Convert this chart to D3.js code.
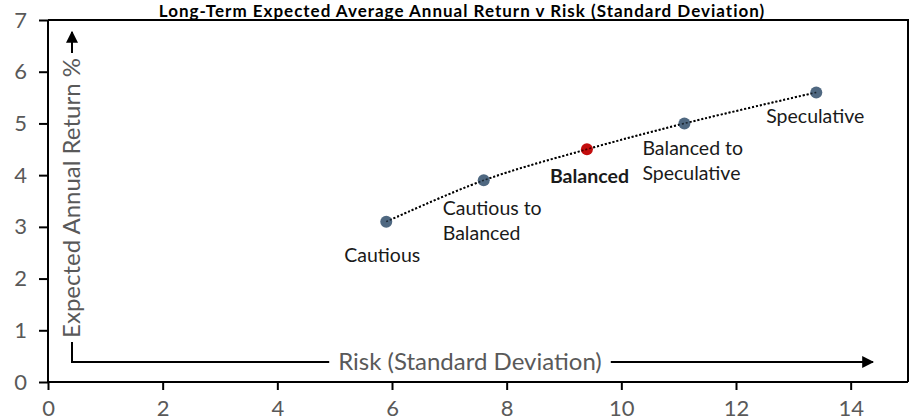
<!DOCTYPE html>
<html lang="en">
  <head>
    <meta charset="UTF-8" />
    <title>Return v Risk</title>
    <script src="https://cdn.jsdelivr.net/npm/d3@7"></script>
    <style>
      body { margin: 0; background: #fff; }
      #svgBox { width: 915px; height: 420px; display: block; }
    </style>
  </head>
  <body>
    <svg id="svgBox"></svg>
  </body>
  <script>
    const names = ['Cautious', 'Cautious to Balanced', 'Balanced', 'Balanced to Speculative', 'Speculative']
    const riskValues = [5.9, 7.6, 9.4, 11.1, 13.4]
    const returnValues = [3.1, 3.9, 4.5, 5.0, 5.6]
    const xTicks = [0, 2, 4, 6, 8, 10, 12, 14]
    const yTicks = [0, 1, 2, 3, 4, 5, 6, 7]

    // label lines and placement per point
    const labelLines = [['Cautious'], ['Cautious to', 'Balanced'], ['Balanced'], ['Balanced to', 'Speculative'], ['Speculative']]
    const labelPos = [
      { dx: -4, dy: 40, anchor: 'middle' },
      { dx: -41, dy: 35, anchor: 'start' },
      { dx: -37, dy: 34, anchor: 'start' },
      { dx: -42, dy: 32, anchor: 'start' },
      { dx: -1, dy: 31, anchor: 'middle' }
    ]

    function init() {
      const svg = d3.select('#svgBox')
      const margin = { top: 20, right: 7, bottom: 38, left: 48 }
      const width = 915, height = 420
      const innerWidth = width - margin.left - margin.right
      const innerHeight = height - margin.top - margin.bottom
      const font = 'Lato, Calibri, "Open Sans", sans-serif'

      const data = names.map((n, i) => ({ name: n, x: riskValues[i], y: returnValues[i] }))

      const xScale = d3.scaleLinear().domain([0, 15]).range([0, innerWidth])
      const yScale = d3.scaleLinear().domain([0, 7]).range([innerHeight, 0])

      // title sits tight against the top edge
      svg.append('text')
        .attr('x', 462).attr('y', 17)
        .attr('text-anchor', 'middle')
        .style('font-family', font).style('font-weight', 'bold').style('font-size', '17px')
        .style('letter-spacing', '1px')
        .text('Long-Term Expected Average Annual Return v Risk (Standard Deviation)')

      const g = svg.append('g').attr('transform', `translate(${margin.left} ${margin.top})`)

      // plot frame (top and right)
      g.append('path')
        .attr('d', `M0,0H${innerWidth}V${innerHeight}`)
        .attr('fill', 'none').attr('stroke', '#000').attr('stroke-width', 2)

      const xAxis = d3.axisBottom(xScale).tickValues(xTicks).tickFormat(d3.format('d')).tickSize(8).tickPadding(10)
      const yAxis = d3.axisLeft(yScale).tickValues(yTicks).tickFormat(d3.format('d')).tickSize(9).tickPadding(12)

      const gx = g.append('g').attr('transform', `translate(0 ${innerHeight})`).call(xAxis)
      const gy = g.append('g').call(yAxis)
      ;[gx, gy].forEach(a => {
        a.select('.domain').attr('stroke', '#000').attr('stroke-width', 2)
        a.selectAll('.tick line').attr('stroke', '#000').attr('stroke-width', 2)
        a.selectAll('.tick text')
          .attr('fill', '#595959')
          .style('font-family', font).style('font-size', '22px')
      })
      gy.select('.domain').attr('d', `M0,0V${innerHeight}`)
      gx.select('.domain').attr('d', `M0,0H${innerWidth}`)

      // arrow marker
      svg.append('defs').append('marker')
        .attr('id', 'arrow').attr('viewBox', '0 0 10 10')
        .attr('refX', 9).attr('refY', 5)
        .attr('markerWidth', 6).attr('markerHeight', 6)
        .attr('markerUnits', 'strokeWidth')
        .attr('orient', 'auto')
        .append('path').attr('d', 'M0,0L10,5L0,10z').attr('fill', '#000')

      // axis titles drawn inside the plot with L-shaped arrow
      const cornerX = 24, cornerY = innerHeight - 20
      const xt = g.append('text')
        .attr('x', 422).attr('y', cornerY + 8)
        .attr('text-anchor', 'middle').attr('fill', '#595959')
        .style('font-family', font).style('font-size', '24px')
        .text('Risk (Standard Deviation)')
      const xb = xt.node().getBBox()
      const yt = g.append('text')
        .attr('transform', `translate(${cornerX + 8} 178) rotate(-90)`)
        .attr('text-anchor', 'middle').attr('fill', '#595959')
        .style('font-family', font).style('font-size', '24px')
        .text('Expected Annual Return %')
      const yLen = yt.node().getComputedTextLength()

      g.append('path')
        .attr('d', `M${xb.x - 9},${cornerY}H${cornerX}V${178 + yLen / 2 + 4}`)
        .attr('fill', 'none').attr('stroke', '#000').attr('stroke-width', 2)
      g.append('path')
        .attr('d', `M${xb.x + xb.width + 9},${cornerY}H${825}`)
        .attr('fill', 'none').attr('stroke', '#000').attr('stroke-width', 2)
        .attr('marker-end', 'url(#arrow)')
      g.append('path')
        .attr('d', `M${cornerX},${178 - yLen / 2 - 5}V${12}`)
        .attr('fill', 'none').attr('stroke', '#000').attr('stroke-width', 2)
        .attr('marker-end', 'url(#arrow)')

      // smoothed dotted line
      const line = d3.line().x(d => xScale(d.x)).y(d => yScale(d.y)).curve(d3.curveCatmullRom)
      g.append('path')
        .datum(data)
        .attr('d', line)
        .attr('fill', 'none').attr('stroke', '#000')
        .attr('stroke-width', 2).attr('stroke-dasharray', '2 2')

      g.selectAll('.pt')
        .data(data)
        .join('circle')
        .attr('class', 'pt')
        .attr('cx', d => xScale(d.x)).attr('cy', d => yScale(d.y))
        .attr('r', 6)
        .attr('fill', d => d.name === 'Balanced' ? '#c00000' : '#46607a')
        .attr('fill-opacity', 0.95)

      // redraw line dots over the markers, as in the original
      g.append('path')
        .datum(data)
        .attr('d', line)
        .attr('fill', 'none').attr('stroke', '#000').attr('stroke-opacity', 0.6)
        .attr('stroke-width', 1.5).attr('stroke-dasharray', '2 2')

      const lbl = g.selectAll('.lbl')
        .data(data)
        .join('text')
        .attr('class', 'lbl')
        .attr('x', (d, i) => xScale(d.x) + labelPos[i].dx)
        .attr('y', (d, i) => yScale(d.y) + labelPos[i].dy)
        .attr('text-anchor', (d, i) => labelPos[i].anchor)
        .attr('fill', '#1a1a1a')
        .style('font-family', font).style('font-size', '19.5px')
        .style('font-weight', d => d.name === 'Balanced' ? 'bold' : 'normal')
      lbl.selectAll('tspan')
        .data((d, i) => labelLines[i].map(t => ({ t, x: xScale(d.x) + labelPos[i].dx })))
        .join('tspan')
        .attr('x', d => d.x)
        .attr('dy', (d, j) => j === 0 ? 0 : 25)
        .text(d => d.t)
    }
    init()
  </script>
</html>
